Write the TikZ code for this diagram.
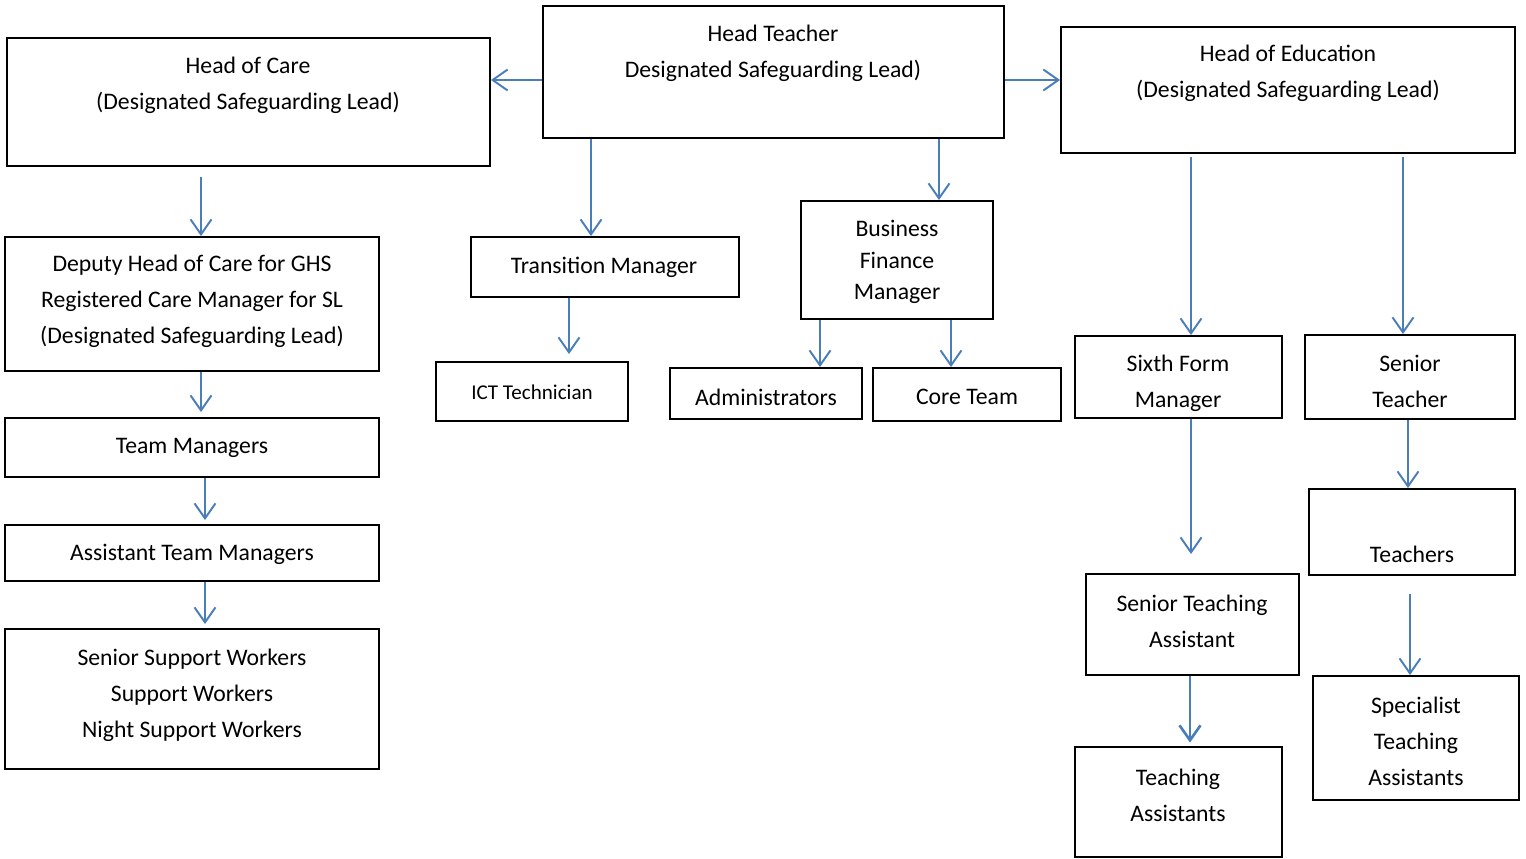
\documentclass[tikz,border=0pt]{standalone}
\usepackage{fontspec}
\setmainfont{Carlito}
\usetikzlibrary{arrows.meta, fit}
\definecolor{linkblue}{RGB}{74,126,187}
\tikzset{every picture/.style={font issue=\fontsize{13.5pt}{20.5pt}},
         font issue/.style={execute at begin picture={#1\selectfont}}
}

\begin{document}
\begin{tikzpicture}[x=0.02cm, y=-0.02cm,
    orgbox/.style={draw, line width=1.1pt, inner sep=0pt, fit={#1}},
    boxtext/.style={align=center, inner sep=0pt},
    link/.style={draw=linkblue, line width=1.1pt, -{Straight Barb[length=0.3cm, width=0.42cm]}}]
        \useasboundingbox (0,0) rectangle (1526,859);
        % top row
        \node [orgbox={(543,6) (1004,138)}] (ht) {};
        \node [boxtext] (ht-t) at (773,53) {Head Teacher\\Designated Safeguarding Lead)};
        \node [orgbox={(7,38) (490,166)}] (hc) {};
        \node [boxtext] (hc-t) at (248,85) {Head of Care\\(Designated Safeguarding Lead)};
        \node [orgbox={(1061,27) (1515,153)}] (he) {};
        \node [boxtext] (he-t) at (1288,73) {Head of Education\\(Designated Safeguarding Lead)};
        % care side
        \node [orgbox={(5,237) (379,371)}] (dh) {};
        \node [boxtext] (dh-t) at (192,301) {Deputy Head of Care for GHS\\Registered Care Manager for SL\\(Designated Safeguarding Lead)};
        \node [orgbox={(5,418) (379,477)}] (tm) {};
        \node [boxtext] (tm-t) at (192,448) {Team Managers};
        \node [orgbox={(5,525) (379,581)}] (atm) {};
        \node [boxtext] (atm-t) at (192,554) {Assistant Team Managers};
        \node [orgbox={(5,629) (379,769)}] (sw) {};
        \node [boxtext] (sw-t) at (192,695) {Senior Support Workers\\Support Workers\\Night Support Workers};
        % middle
        \node [orgbox={(471,237) (739,297)}] (trm) {};
        \node [boxtext] (trm-t) at (604,267) {Transition Manager};
        \node [orgbox={(436,362) (628,421)}] (ict) {};
        \node [boxtext, font=\fontsize{12pt}{14pt}\selectfont] (ict-t) at (532,392) {ICT Technician};
        \node [orgbox={(801,201) (993,319)}] (bfm) {};
        \node [boxtext, font=\fontsize{13.5pt}{17.9pt}\selectfont] (bfm-t) at (897,262) {Business\\Finance\\Manager};
        \node [orgbox={(670,368) (862,419)}] (adm) {};
        \node [boxtext] (adm-t) at (766,397) {Administrators};
        \node [orgbox={(873,368) (1061,421)}] (core) {};
        \node [boxtext] (core-t) at (967,397) {Core Team};
        % education side
        \node [orgbox={(1075,336) (1282,418)}] (sfm) {};
        \node [boxtext] (sfm-t) at (1178,383) {Sixth Form\\Manager};
        \node [orgbox={(1305,335) (1515,419)}] (st) {};
        \node [boxtext] (st-t) at (1410,381) {Senior\\Teacher};
        \node [orgbox={(1309,489) (1515,575)}] (tch) {};
        \node [boxtext] (tch-t) at (1412,554) {Teachers};
        \node [orgbox={(1086,574) (1299,675)}] (sta) {};
        \node [boxtext] (sta-t) at (1192,621) {Senior Teaching\\Assistant};
        \node [orgbox={(1075,747) (1282,857)}, line width=1.6pt] (ta) {};
        \node [boxtext] (ta-t) at (1178,795) {Teaching\\Assistants};
        \node [orgbox={(1313,676) (1519,800)}] (spta) {};
        \node [boxtext] (spta-t) at (1416,741) {Specialist\\Teaching\\Assistants};
        % links
        \draw [link] (ht.west |- 0,80) -- (hc.east |- 0,80);
        \draw [link] (ht.east |- 0,80) -- (he.west |- 0,80);
        \draw [link] (ht.south -| 591,0) -- (trm.north -| 591,0);
        \draw [link] (ht.south -| 939,0) -- (bfm.north -| 939,0);
        \draw [link, shorten >=0.14cm] (trm.south -| 569,0) -- (ict.north -| 569,0);
        \draw [link] (bfm.south -| 820,0) -- (adm.north -| 820,0);
        \draw [link] (bfm.south -| 951,0) -- (core.north -| 951,0);
        \draw [link, shorten <=0.2cm] (hc.south -| 201,0) -- (dh.north -| 201,0);
        \draw [link, shorten >=0.1cm] (dh.south -| 201,0) -- (tm.north -| 201,0);
        \draw [link, shorten >=0.08cm] (tm.south -| 205,0) -- (atm.north -| 205,0);
        \draw [link, shorten >=0.08cm] (atm.south -| 205,0) -- (sw.north -| 205,0);
        \draw [link, shorten <=0.06cm] (he.south -| 1191,0) -- (sfm.north -| 1191,0);
        \draw [link, shorten <=0.06cm] (he.south -| 1403,0) -- (st.north -| 1403,0);
        \draw [link, shorten >=0.38cm] (sfm.south -| 1191,0) -- (sta.north -| 1191,0);
        \draw [link] (st.south -| 1408,0) -- (tch.north -| 1408,0);
        \draw [link, shorten <=0.36cm] (tch.south -| 1410,0) -- (spta.north -| 1410,0);
        \draw [link, line width=1.5pt, shorten >=0.06cm] (sta.south -| 1190,0) -- (ta.north -| 1190,0);
\end{tikzpicture}
\end{document}
